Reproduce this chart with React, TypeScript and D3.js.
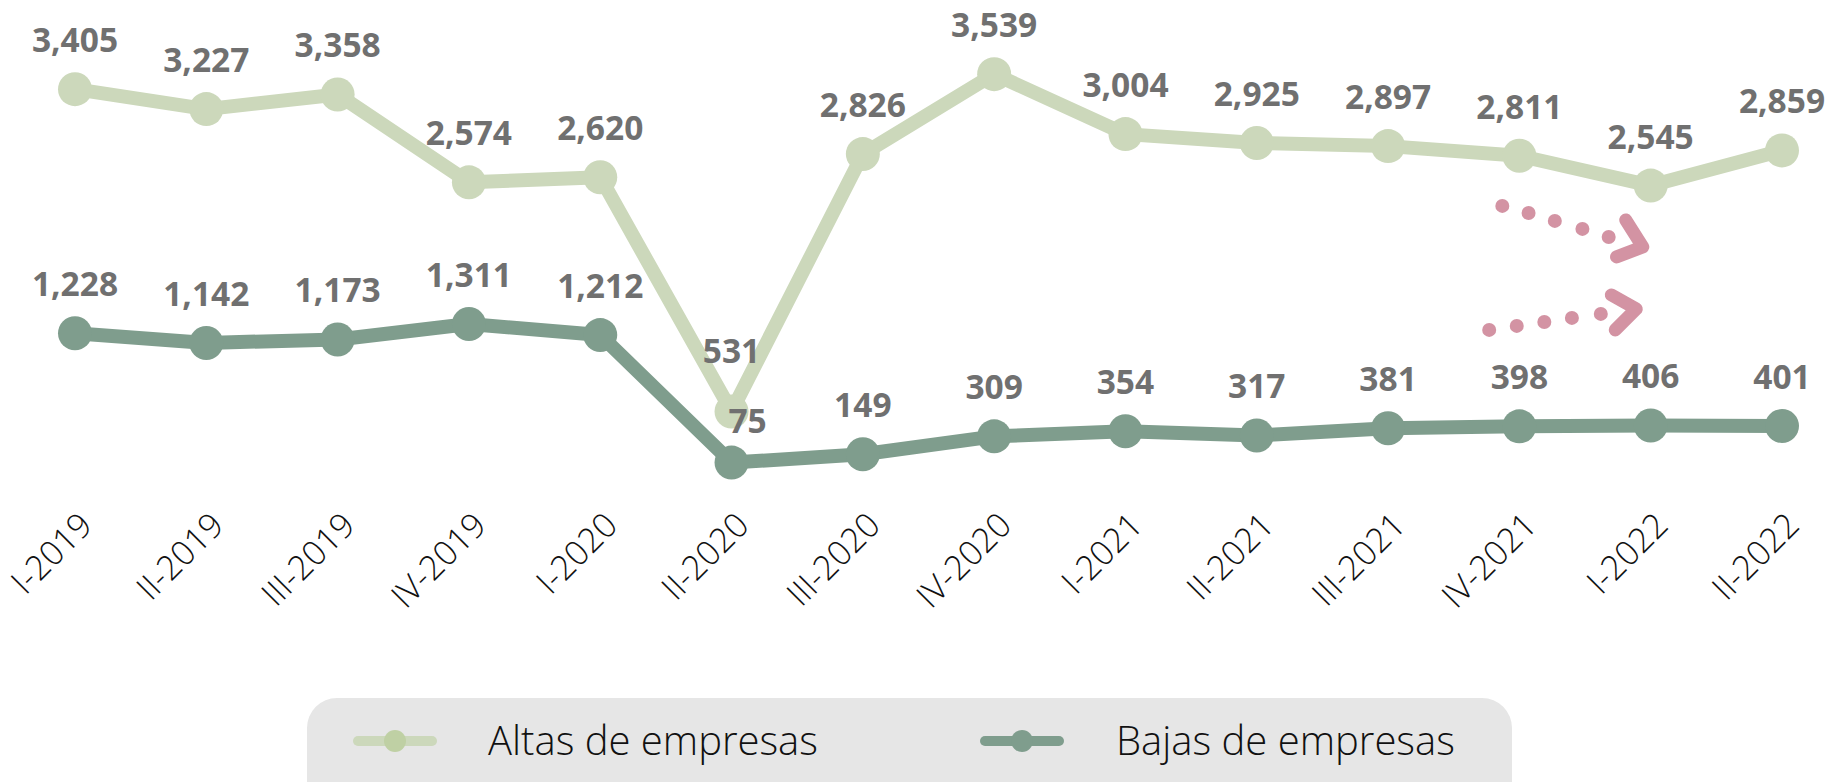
import React from "react";
import * as d3 from "d3";

const categories = [
  "I-2019", "II-2019", "III-2019", "IV-2019",
  "I-2020", "II-2020", "III-2020", "IV-2020",
  "I-2021", "II-2021", "III-2021", "IV-2021",
  "I-2022", "II-2022",
];
const altas = [3405, 3227, 3358, 2574, 2620, 531, 2826, 3539, 3004, 2925, 2897, 2811, 2545, 2859];
const bajas = [1228, 1142, 1173, 1311, 1212, 75, 149, 309, 354, 317, 381, 398, 406, 401];
const seriesNames = ["Altas de empresas", "Bajas de empresas"];

// annotation arrows, in (category index, value) space
const arrowUpperDots: [number, number][] = [[10.87, 2364], [11.07, 2300], [11.27, 2230], [11.48, 2159], [11.68, 2087]];
const arrowUpperHead: [number, number][] = [[11.81, 2239], [11.94, 1998], [11.74, 1909]];
const arrowLowerDots: [number, number][] = [[10.77, 1258], [10.98, 1294], [11.19, 1329], [11.40, 1365], [11.62, 1401]];
const arrowLowerHead: [number, number][] = [[11.70, 1570], [11.89, 1445], [11.73, 1258]];

const W = 1829;
const H = 782;
const LIGHT = "#ccd8bb";
const DARK = "#7f9d8d";
const LABEL = "#707070";
const PINK = "#d393a3";

export default function App() {
  const x = d3.scalePoint<string>().domain(categories).range([75, 1782]).padding(0);
  const xi = d3.scaleLinear().domain([0, categories.length - 1]).range([75, 1782]);
  const y = d3.scaleLinear().domain([0, 4200]).range([471, 0]);

  const line = d3
    .line<number>()
    .x((_, i) => x(categories[i]) as number)
    .y((d) => y(d));
  const annLine = d3
    .line<[number, number]>()
    .x((d) => xi(d[0]))
    .y((d) => y(d[1]));

  const labelOffset = (series: number, i: number): [number, number] => {
    if (series === 0 && i === 5) return [0, -48];
    if (series === 1 && i === 5) return [16, -30];
    return [0, -37];
  };

  const series = [
    { values: altas, color: LIGHT },
    { values: bajas, color: DARK },
  ];

  return (
    <svg
      width={W}
      height={H}
      style={{ position: "absolute", left: 0, top: 0, background: "#fff" }}
      fontFamily="'Open Sans', sans-serif"
    >
      {/* lines */}
      {series.map((s, si) => (
        <g key={si}>
          <path d={line(s.values) || ""} fill="none" stroke={s.color} strokeWidth={14} strokeLinejoin="round" />
          {s.values.map((v, i) => (
            <circle key={i} cx={x(categories[i])} cy={y(v)} r={17} fill={s.color} />
          ))}
        </g>
      ))}

      {/* arrows */}
      {[arrowUpperDots, arrowLowerDots].map((dots, k) => (
        <g key={"d" + k}>
          {dots.map((d, i) => (
            <circle key={i} cx={xi(d[0])} cy={y(d[1])} r={7} fill={PINK} />
          ))}
        </g>
      ))}
      {[arrowUpperHead, arrowLowerHead].map((h, k) => (
        <path
          key={"h" + k}
          d={annLine(h) || ""}
          fill="none"
          stroke={PINK}
          strokeWidth={13}
          strokeLinecap="round"
          strokeLinejoin="round"
        />
      ))}

      {/* value labels */}
      {series.map((s, si) => (
        <g key={"l" + si}>
          {s.values.map((v, i) => {
            const [dx, dy] = labelOffset(si, i);
            return (
              <text
                key={i}
                x={(x(categories[i]) as number) + dx}
                y={y(v) + dy}
                textAnchor="middle"
                fontSize={33.5}
                fontWeight={700}
                fill={LABEL}
              >
                {d3.format(",")(v)}
              </text>
            );
          })}
        </g>
      ))}

      {/* x axis labels */}
      {categories.map((c) => (
        <text
          key={c}
          transform={`translate(${(x(c) as number) + 2},510) rotate(-45)`}
          textAnchor="end"
          dy="0.72em"
          fontSize={34}
          fontWeight={300}
          fill="#111"
        >
          {c}
        </text>
      ))}

      {/* legend */}
      <rect x={307} y={698} width={1205} height={120} rx={30} ry={30} fill="#e6e6e6" />
      {[
        { lx: 353, tx: 488, color: LIGHT, dot: "#bfd0a4" },
        { lx: 980, tx: 1116, color: DARK, dot: DARK },
      ].map((l, i) => (
        <g key={"lg" + i}>
          <line x1={l.lx + 5} x2={l.lx + 79} y1={741} y2={741} stroke={l.color} strokeWidth={10} strokeLinecap="round" />
          <circle cx={l.lx + 42} cy={741} r={11} fill={l.dot} />
          <text x={l.tx} y={755} fontSize={40} fontWeight={300} fill="#111">
            {seriesNames[i]}
          </text>
        </g>
      ))}
    </svg>
  );
}
